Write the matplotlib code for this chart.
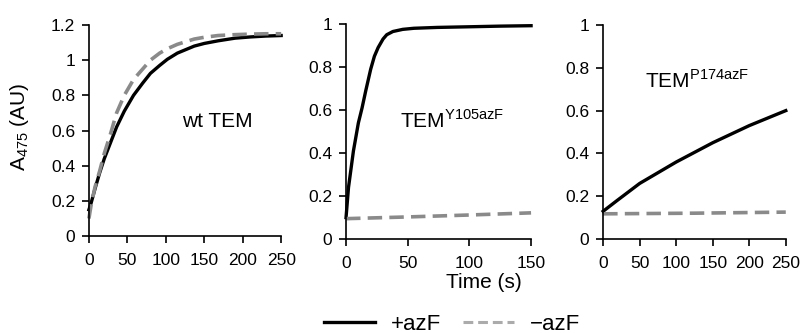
import numpy as np
import matplotlib
matplotlib.use('Agg')
import matplotlib.pyplot as plt
from matplotlib.lines import Line2D

plt.rcParams['font.family'] = ['Liberation Sans', 'DejaVu Sans']

# wt TEM (time in s, A475)
t_wt = [0, 3, 8, 14, 20, 28, 36, 46, 58, 70, 80, 92, 102, 115, 137, 150, 168, 190, 210, 230, 250]
wt_plus = [0.15, 0.19, 0.27, 0.36, 0.44, 0.53, 0.62, 0.71, 0.80, 0.87, 0.925, 0.97, 1.005, 1.04, 1.08, 1.095, 1.11, 1.125, 1.132, 1.137, 1.14]
wt_minus = [0.10, 0.18, 0.28, 0.37, 0.47, 0.58, 0.70, 0.80, 0.89, 0.95, 1.00, 1.04, 1.065, 1.09, 1.12, 1.13, 1.14, 1.145, 1.148, 1.15, 1.15]

# TEM Y105azF
t_y = [0, 2, 6, 10, 13, 16, 20, 23, 26, 30, 33, 38, 46, 55, 74, 100, 125, 150]
y_plus = [0.10, 0.24, 0.41, 0.54, 0.61, 0.69, 0.79, 0.85, 0.89, 0.93, 0.95, 0.965, 0.975, 0.98, 0.984, 0.987, 0.99, 0.992]
t_y_minus = [0, 50, 100, 150]
y_minus = [0.095, 0.103, 0.112, 0.122]

# TEM P174azF
t_p = [0, 19, 50, 75, 100, 125, 150, 175, 200, 225, 250]
p_plus = [0.13, 0.18, 0.26, 0.31, 0.36, 0.405, 0.45, 0.49, 0.53, 0.565, 0.60]
t_p_minus = [0, 125, 250]
p_minus = [0.118, 0.121, 0.126]

gray = '#8a8a8a'
fs = 12.5

fig = plt.figure(figsize=(8.01, 3.33), dpi=100)
ax1 = fig.add_axes([0.111, 0.291, 0.240, 0.634])
ax2 = fig.add_axes([0.432, 0.282, 0.231, 0.646])
ax3 = fig.add_axes([0.753, 0.282, 0.228, 0.643])

def style(ax, xlim, ylim, xt, yt, ylabels):
    ax.set_xlim(*xlim)
    ax.set_ylim(*ylim)
    ax.set_xticks(xt)
    ax.set_yticks(yt)
    ax.set_yticklabels(ylabels)
    for s in ['top', 'right']:
        ax.spines[s].set_visible(False)
    for s in ['left', 'bottom']:
        ax.spines[s].set_linewidth(1.2)
    ax.tick_params(direction='out', length=5, width=1.2, labelsize=fs, pad=5)
    ax.tick_params(axis='x', pad=7)

ax1.plot(t_wt, wt_plus, color='black', lw=2.4, clip_on=False)
ax1.plot(t_wt, wt_minus, color=gray, lw=2.6, dashes=(4, 2), clip_on=False)
style(ax1, (0, 250), (0, 1.2), [0, 50, 100, 150, 200, 250],
      [0, 0.2, 0.4, 0.6, 0.8, 1, 1.2], ['0', '0.2', '0.4', '0.6', '0.8', '1', '1.2'])
ax1.text(167, 0.65, 'wt TEM', fontsize=15, ha='center', va='center')
ax1.set_ylabel('A$_{\\mathregular{475}}$ (AU)', fontsize=15)
ax1.yaxis.set_label_coords(-0.30, 0.52)

ax2.plot(t_y, y_plus, color='black', lw=2.4, clip_on=False)
ax2.plot(t_y_minus, y_minus, color=gray, lw=2.6, dashes=(4, 2), clip_on=False)
style(ax2, (0, 150), (0, 1), [0, 50, 100, 150],
      [0, 0.2, 0.4, 0.6, 0.8, 1], ['0', '0.2', '0.4', '0.6', '0.8', '1'])
ax2.text(86, 0.55, 'TEM$^{\\mathregular{Y105azF}}$', fontsize=15, ha='center', va='center')

ax3.plot(t_p, p_plus, color='black', lw=2.4, clip_on=False)
ax3.plot(t_p_minus, p_minus, color=gray, lw=2.6, dashes=(4, 2), clip_on=False)
style(ax3, (0, 250), (0, 1), [0, 50, 100, 150, 200, 250],
      [0, 0.2, 0.4, 0.6, 0.8, 1], ['0', '0.2', '0.4', '0.6', '0.8', '1'])
ax3.text(129, 0.74, 'TEM$^{\\mathregular{P174azF}}$', fontsize=15, ha='center', va='center')

fig.text(484 / 801, 1 - 282 / 333, 'Time (s)', fontsize=15, ha='center', va='center')

h_plus = Line2D([], [], color='black', lw=2.4)
h_minus = Line2D([], [], color='#ababab', lw=2.2, dashes=(3.2, 1.6))
fig.legend([h_plus, h_minus], ['+azF', '\u2212azF'], loc='center', bbox_to_anchor=(452 / 801, 1 - 324 / 333),
           ncol=2, frameon=False, fontsize=16, handlelength=2.3, columnspacing=1.0,
           handletextpad=0.7, borderpad=0)

fig.savefig('out.png', dpi=100)
